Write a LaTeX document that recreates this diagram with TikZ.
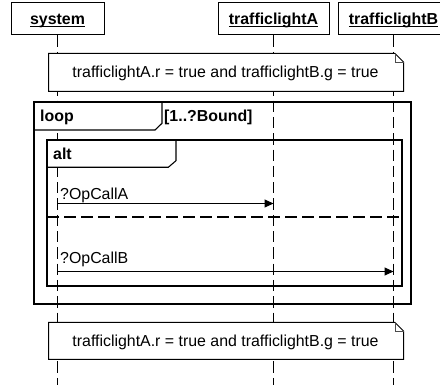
\documentclass[tikz,border=0pt]{standalone}
\usepackage{fontspec}
\setmainfont{Liberation Sans}
\usetikzlibrary{arrows.meta}
\newsavebox\ulbox
% bold, underlined lifeline name
\newcommand\lifename[1]{\sbox\ulbox{\bfseries #1}\rlap{\rule[-3pt]{\wd\ulbox}{1pt}}\usebox\ulbox}

\begin{document}
\begin{tikzpicture}[x=1pt,y=-1pt,
  font=\fontsize{15.9}{18}\selectfont,
  head/.style={draw, line width=1pt, fill=white, minimum height=32pt, inner sep=0pt,
               text height=11.5pt, text depth=0.5pt},
  lifeline/.style={line width=1.5pt, dash pattern=on 11.3pt off 5pt, dash phase=0pt},
  noteline/.style={draw, line width=1pt, fill=white},
  foldline/.style={line width=0.6pt, draw=black!70},
  notetext/.style={inner sep=0pt, text height=11.5pt, text depth=0.5pt},
  loopframe/.style={line width=2.4pt},
  altframe/.style={line width=2pt},
  tag/.style={draw, line width=1.1pt, fill=white},
  tagtext/.style={inner sep=0pt, anchor=base west, font=\fontsize{15.9}{18}\selectfont\bfseries},
  msg/.style={line width=1pt, -{Triangle[length=9pt,width=8pt]}},
  msgtext/.style={inner sep=0pt, anchor=base west},
  separator/.style={line width=2.6pt, dash pattern=on 12pt off 5pt},
]
\clip (0,0) rectangle (440,385);
\fill[white] (0,0) rectangle (440,385);

% lifeline heads
\node[head, minimum width=93pt]  (sys) at (57.5,19) {\lifename{system}};
\node[head, minimum width=111pt] (tla) at (273.5,19) {\lifename{trafficlightA}};
\node[head, minimum width=110pt] (tlb) at (393.5,19) {\lifename{trafficlightB}};

\coordinate (sysEnd) at (57.5,385);
\coordinate (tlaEnd) at (273.5,385);
\coordinate (tlbEnd) at (393.5,385);

% lifelines
\draw[lifeline] (sys.south) -- (sysEnd);
\draw[lifeline] (tla.south) -- (tlaEnd);
\draw[lifeline] (tlb.south) -- (tlbEnd);

% state invariant before the loop
\path[noteline] (48.5,53.5) -- (395,53.5) -- (403.5,62) -- (403.5,91.5) -- (48.5,91.5) -- cycle;
\draw[foldline] (395,53.5) -- (395,62) -- (403.5,62);
\node[notetext] (pre) at (225.5,72) {trafficlightA.r = true and trafficlightB.g = true};

% loop fragment
\draw[tag] (34,102) -- (162,102) -- (162,123.3) -- (155,130) -- (34,130) -- cycle;
\draw[loopframe] (34,102) rectangle (411,304);
\node[tagtext] (looplbl) at (40,122) {loop};
\node[tagtext] (guard) at (164,122) {[1..?Bound]};

% alt fragment
\draw[tag] (47,140) -- (176,140) -- (176,160.7) -- (168.3,167.3) -- (47,167.3) -- cycle;
\draw[altframe] (47,140) rectangle (402,286);
\node[tagtext] (altlbl) at (53,159.5) {alt};

% first operand
\coordinate (sysA) at (57.5,203.5);
\coordinate (tlaA) at (273.5,203.5);
\draw[msg] (sysA) -- (tlaA);
\node[msgtext] (callA) at (60,199.5) {?OpCallA};

% operand separator
\coordinate (sepL) at (47,217);
\coordinate (sepR) at (402,217);
\draw[separator] (sepL) -- (sepR);

% second operand
\coordinate (sysB) at (57.5,271.5);
\coordinate (tlbB) at (393.5,271.5);
\draw[msg] (sysB) -- (tlbB);
\node[msgtext] (callB) at (60,263.5) {?OpCallB};

% state invariant after the loop
\path[noteline] (48.5,322.5) -- (395,322.5) -- (403.5,331) -- (403.5,359.5) -- (48.5,359.5) -- cycle;
\draw[foldline] (395,322.5) -- (395,331) -- (403.5,331);
\node[notetext] (post) at (225.5,341) {trafficlightA.r = true and trafficlightB.g = true};
\end{tikzpicture}
\end{document}
